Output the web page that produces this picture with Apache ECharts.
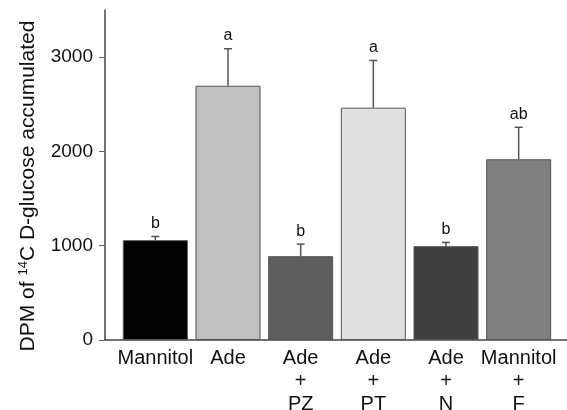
<!DOCTYPE html>
<html><head><meta charset="utf-8">
<script src="https://cdn.jsdelivr.net/npm/echarts@6/dist/echarts.min.js"></script>
<style>html,body{margin:0;padding:0;background:#fff}#c{width:567px;height:410px}</style>
</head><body><div id="c"></div>
<script>
var categories = ['Mannitol', 'Ade', 'Ade\n+\nPZ', 'Ade\n+\nPT', 'Ade\n+\nN', 'Mannitol\n+\nF'];
var means = [1059, 2697, 889, 2464, 995, 1917];
var errors = [39, 392, 128, 501, 40, 339];
var letters = ['b', 'a', 'b', 'a', 'b', 'ab'];
var barColors = ['#000000', '#bfbfbf', '#5e5e5e', '#e0e0e0', '#404040', '#808080'];
var yTicks = [0, 1000, 2000, 3000];

var FONT = 'Liberation Sans, Arial, sans-serif';
var chart = echarts.init(document.getElementById('c'));
var errData = means.map(function (m, i) { return [i, m, m + errors[i], letters[i]]; });

chart.setOption({
  animation: false,
  grid: [
    { left: 119, right: 12, top: 10, bottom: 70, outerBoundsMode: 'none', containLabel: false },
    { left: 105, right: 0, top: 10, bottom: 70, outerBoundsMode: 'none', containLabel: false }
  ],
  xAxis: [
    { type: 'category', gridIndex: 0, data: categories,
      axisLine: { show: false }, axisTick: { show: false },
      axisLabel: { color: '#111', fontSize: 20, fontFamily: FONT, lineHeight: 23, margin: 7, interval: 0 } },
    { type: 'value', gridIndex: 1, min: 0, max: 1,
      axisLine: { show: true, onZero: false, lineStyle: { color: '#444', width: 1.5 } },
      axisTick: { show: false }, axisLabel: { show: false }, splitLine: { show: false } }
  ],
  yAxis: [
    { type: 'value', gridIndex: 0, min: 0, max: 3500, interval: 1000, offset: 14,
      axisLine: { show: true, lineStyle: { color: '#444', width: 1.5 } },
      axisTick: { show: true, length: 6, customValues: yTicks, lineStyle: { color: '#666' } },
      axisLabel: { color: '#111', fontSize: 19, fontFamily: FONT, margin: 12, customValues: yTicks,
        formatter: function (v) { return String(v); } },
      splitLine: { show: false },
      name: '{a|DPM of }{s|14}{a|C D-glucose accumulated}',
      nameLocation: 'middle', nameRotate: 90, nameGap: 66,
      nameTextStyle: { padding: [0, 22, 0, 0], rich: {
        a: { fontSize: 21, fontFamily: FONT, color: '#111' },
        s: { fontSize: 13, fontFamily: FONT, color: '#111', verticalAlign: 'top', padding: [0, 0, 9, 0] }
      } } },
    { type: 'value', gridIndex: 1, min: 0, max: 1, show: false }
  ],
  series: [
    { type: 'bar', xAxisIndex: 0, yAxisIndex: 0, barWidth: 65,
      data: means.map(function (v, i) {
        return { value: v, itemStyle: { color: barColors[i], borderColor: '#555', borderWidth: 1 } };
      }) },
    { type: 'custom', xAxisIndex: 0, yAxisIndex: 0, data: errData, z: 5,
      renderItem: function (params, api) {
        var x = api.value(0);
        var base = api.coord([x, api.value(1)]);
        var top = api.coord([x, api.value(2)]);
        var hw = 4;
        return { type: 'group', children: [
          { type: 'line', shape: { x1: base[0], y1: base[1], x2: top[0], y2: top[1] },
            style: { stroke: '#555', lineWidth: 1.5 } },
          { type: 'line', shape: { x1: top[0] - hw, y1: top[1], x2: top[0] + hw, y2: top[1] },
            style: { stroke: '#555', lineWidth: 1.5 } },
          { type: 'text', x: top[0], y: top[1] - 5,
            style: { text: api.value(3), fill: '#111', font: '16px ' + FONT, textAlign: 'center', textVerticalAlign: 'bottom' } }
        ] };
      } }
  ]
});
</script></body></html>
